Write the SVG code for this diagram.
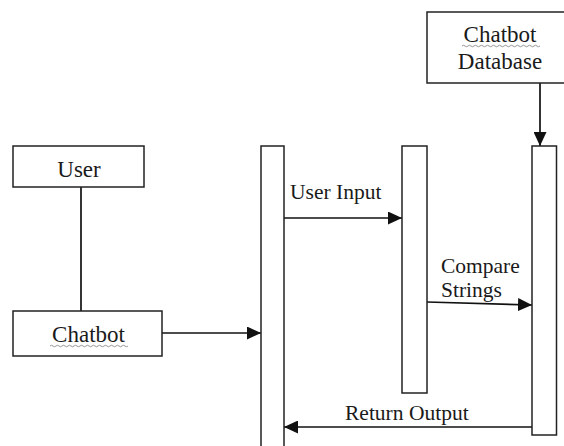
<svg xmlns="http://www.w3.org/2000/svg" width="564" height="446" viewBox="0 0 564 446">
<style>
.box{fill:#fff;stroke:#222;stroke-width:1.5}
.ln{fill:none;stroke:#111;stroke-width:1.7}
.t{font-family:"Liberation Serif","Times New Roman",serif;fill:#1a1a1a}
.bt{font-size:23px;text-anchor:middle}
.lt{font-size:21.5px}
.sq{fill:none;stroke:#8a8a8a;stroke-width:0.9}
</style>
<defs>
<marker id="ah" viewBox="0 0 14 13" refX="14" refY="6.5" markerWidth="14" markerHeight="13" markerUnits="userSpaceOnUse" orient="auto">
<path d="M0,0 L14,6.5 L0,13 Z" fill="#111"/>
</marker>
</defs>
<rect width="564" height="446" fill="#fff"/>
<g id="connectors">
<line class="ln" x1="81" y1="187" x2="81" y2="311"/>
<line class="ln" x1="162" y1="333" x2="261" y2="333" marker-end="url(#ah)"/>
<line class="ln" x1="540" y1="83" x2="540" y2="146" marker-end="url(#ah)"/>
<line class="ln" x1="284" y1="218" x2="402" y2="218" marker-end="url(#ah)"/>
<line class="ln" x1="427" y1="302" x2="532" y2="305" marker-end="url(#ah)"/>
<line class="ln" x1="532" y1="427" x2="284" y2="427" marker-end="url(#ah)"/>
<text class="t lt" x="290" y="199">User Input</text>
<text class="t lt" x="441" y="273">Compare</text>
<text class="t lt" x="441" y="297">Strings</text>
<text class="t lt" x="345" y="420">Return Output</text>
</g>
<g id="user">
<rect class="box" x="13" y="146" width="131" height="41"/>
<text class="t bt" x="79" y="177">User</text>
</g>
<g id="chatbot">
<rect class="box" x="13" y="311" width="149" height="45"/>
<text class="t bt" x="88.5" y="341.5">Chatbot</text>
<path class="sq" d="M50,346 q1.5,-1.5 3,0 t3,0 t3,0 t3,0 t3,0 t3,0 t3,0 t3,0 t3,0 t3,0 t3,0 t3,0 t3,0 t3,0 t3,0 t3,0 t3,0 t3,0 t3,0 t3,0 t3,0 t3,0 t3,0 t3,0 t3,0 t3,0"/>
</g>
<g id="database">
<rect class="box" x="427" y="12" width="142" height="71"/>
<text class="t bt" x="500" y="41.5">Chatbot</text>
<path class="sq" d="M462,46 q1.5,-1.5 3,0 t3,0 t3,0 t3,0 t3,0 t3,0 t3,0 t3,0 t3,0 t3,0 t3,0 t3,0 t3,0 t3,0 t3,0 t3,0 t3,0 t3,0 t3,0 t3,0 t3,0 t3,0 t3,0 t3,0 t3,0 t3,0"/>
<text class="t bt" x="500" y="68.5">Database</text>
</g>
<g id="lifeline-chatbot">
<rect class="box" x="261" y="146" width="23" height="310"/>
</g>
<g id="lifeline-compare">
<rect class="box" x="402" y="146" width="25" height="247"/>
</g>
<g id="lifeline-database">
<rect class="box" x="532" y="146" width="24.5" height="289"/>
</g>
</svg>
